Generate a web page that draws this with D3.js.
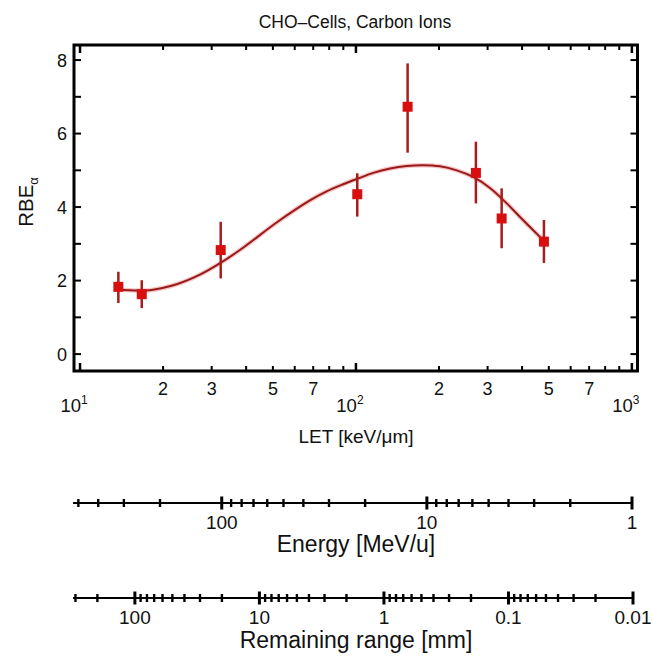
<!DOCTYPE html>
<html><head><meta charset="utf-8">
<script src="https://cdn.jsdelivr.net/npm/d3@7/dist/d3.min.js"></script>
<style>body{margin:0;background:#fff}svg{display:block}text{font-family:"Liberation Sans",Arial,Helvetica,sans-serif;fill:#111}</style>
</head><body><svg id="c" width="652" height="659"></svg>
<script>
// Data
const pointLET = [13.77, 16.74, 32.35, 101.1, 153.9, 272.1, 337.3, 480.0];
const pointRBE = [1.83, 1.63, 2.83, 4.35, 6.73, 4.93, 3.69, 3.06];
const errHigh  = [2.24, 2.01, 3.60, 4.92, 7.91, 5.78, 4.51, 3.65];
const errLow   = [1.39, 1.25, 2.06, 3.74, 5.48, 4.10, 2.88, 2.48];
const curveLET = [13.7, 17.9, 22.4, 27.2, 32.3, 39.1, 51.6, 68.1, 78.0, 89.9, 102, 115.5, 133, 152.7, 175.4, 201.5, 232, 266, 306, 352, 404, 480];
const curveRBE = [1.75, 1.74, 1.9, 2.16, 2.48, 2.9, 3.58, 4.18, 4.42, 4.62, 4.78, 4.93, 5.05, 5.12, 5.14, 5.11, 5.0, 4.82, 4.52, 4.1, 3.64, 3.08];
const yTickLabels = [0, 2, 4, 6, 8];
const yMinorTicks = [1, 3, 5, 7];
const letMinorLabels = [2, 3, 5, 7];
const letDecades = [10, 100, 1000];
const energyLabels = [100, 10, 1];
const rangeLabels = [100, 10, 1, 0.1, 0.01];

const svg = d3.select("#c");
const x = d3.scaleLog().domain([9.51, 1048]).range([74, 637.5]);
const y = d3.scaleLinear().domain([-0.46, 8.41]).range([371, 45]);
const [x0, x1] = x.range(), [y0, y1] = y.range();

// title
svg.append("text").attr("x", 355).attr("y", 28).attr("text-anchor", "middle")
  .attr("font-size", 17.5).text("CHO\u2013Cells, Carbon Ions");

// ticks inward
const allX = x.ticks();
const g = svg.append("g").attr("stroke", "#000");
allX.forEach(v => {
  const dec = Math.abs(Math.log10(v) - Math.round(Math.log10(v))) < 1e-9;
  const L = dec ? 8 : 5;
  g.append("line").attr("x1", x(v)).attr("x2", x(v)).attr("y1", y0).attr("y2", y0 - L).attr("stroke-width", dec ? 2.5 : 2);
  g.append("line").attr("x1", x(v)).attr("x2", x(v)).attr("y1", y1).attr("y2", y1 + L).attr("stroke-width", dec ? 2.5 : 2);
});
yTickLabels.concat(yMinorTicks).forEach(v => {
  g.append("line").attr("x1", x0).attr("x2", x0 + 7).attr("y1", y(v)).attr("y2", y(v)).attr("stroke-width", 2);
  g.append("line").attr("x1", x1).attr("x2", x1 - 7).attr("y1", y(v)).attr("y2", y(v)).attr("stroke-width", 2);
});
// frame
svg.append("rect").attr("x", x0).attr("y", y1).attr("width", x1 - x0).attr("height", y0 - y1)
  .attr("fill", "none").attr("stroke", "#000").attr("stroke-width", 3);

// y labels
yTickLabels.forEach(v => svg.append("text").attr("x", 67).attr("y", y(v) + 6.5).attr("text-anchor", "end")
  .attr("font-size", 18).text(v));
const yl = svg.append("text").attr("transform", "translate(33,202) rotate(-90)").attr("text-anchor", "middle").attr("font-size", 20.5);
yl.append("tspan").text("RBE");
yl.append("tspan").attr("font-size", 13).attr("dy", 5).text("\u03b1");

// x labels
[10, 100].forEach(dec => letMinorLabels.forEach(m => {
  svg.append("text").attr("x", x(dec * m)).attr("y", 394.5).attr("text-anchor", "middle").attr("font-size", 18).text(m);
}));
letDecades.forEach((d, i) => {
  const t = svg.append("text").attr("x", x(d) - 6).attr("y", 412).attr("text-anchor", "middle").attr("font-size", 18.5);
  t.append("tspan").text("10");
  t.append("tspan").attr("font-size", 12).attr("dy", -8).text(String(i + 1));
});
svg.append("text").attr("x", 356).attr("y", 443).attr("text-anchor", "middle").attr("font-size", 19).text("LET [keV/\u03bcm]");

// curve
const line = d3.line().x(d => x(d[0])).y(d => y(d[1])).curve(d3.curveCatmullRom.alpha(0.5));
const cdata = curveLET.map((v, i) => [v, curveRBE[i]]);
svg.append("path").attr("d", line(cdata)).attr("fill", "none").attr("stroke", "#f0a0a0").attr("stroke-width", 4.5).attr("opacity", 0.6);
svg.append("path").attr("d", line(cdata)).attr("fill", "none").attr("stroke", "#981a1a").attr("stroke-width", 2);

// error bars & markers
pointLET.forEach((v, i) => {
  svg.append("line").attr("x1", x(v)).attr("x2", x(v)).attr("y1", y(errLow[i])).attr("y2", y(errHigh[i]))
    .attr("stroke", "#a81c1c").attr("stroke-width", 2.5);
  svg.append("rect").attr("x", x(v) - 5).attr("y", y(pointRBE[i]) - 5).attr("width", 10).attr("height", 10)
    .attr("fill", "#d80f0f");
});

// secondary axes
function secAxis(domain, lineY, labels, labelY, title, titleY, right) {
  const s = d3.scaleLog().domain(domain).range([73, right]);
  const ga = svg.append("g").attr("stroke", "#000");
  ga.append("line").attr("x1", 73).attr("x2", right).attr("y1", lineY).attr("y2", lineY).attr("stroke-width", 2.2);
  s.ticks().forEach(v => {
    const dec = Math.abs(Math.log10(v) - Math.round(Math.log10(v))) < 1e-9;
    const L = dec ? 6.5 : 4;
    ga.append("line").attr("x1", s(v)).attr("x2", s(v)).attr("y1", lineY - L).attr("y2", lineY + L)
      .attr("stroke-width", dec ? 3 : 2.4);
  });
  labels.forEach(v => svg.append("text").attr("x", s(v)).attr("y", labelY).attr("text-anchor", "middle")
    .attr("font-size", 19).text(v));
  svg.append("text").attr("x", 356).attr("y", titleY).attr("text-anchor", "middle").attr("font-size", 23).text(title);
}
secAxis([531, 1], 503, energyLabels, 529, "Energy [MeV/u]", 552, 632);
secAxis([314, 0.01], 598, rangeLabels, 624, "Remaining range [mm]", 648, 633);
</script></body></html>
